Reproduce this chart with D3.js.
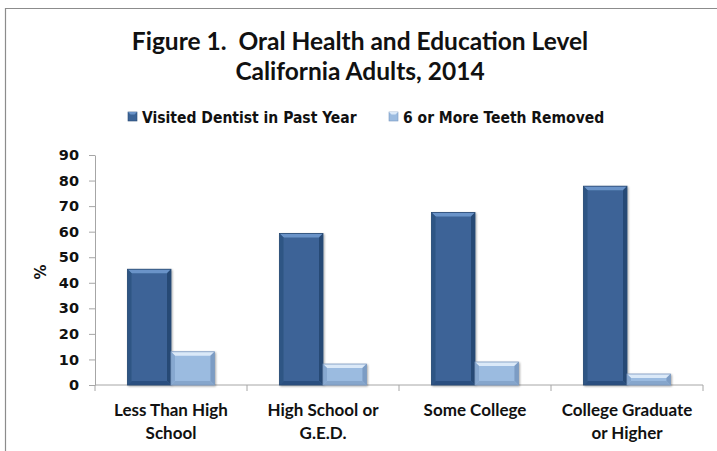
<!DOCTYPE html>
<html>
<head>
<meta charset="utf-8">
<script src="https://cdn.jsdelivr.net/npm/d3@7"></script>
<style>
  html, body { margin: 0; padding: 0; background: #fff; }
  svg { display: block; }
  text { white-space: pre; }
</style>
</head>
<body>
<svg id="chart" width="717" height="451"></svg>
<script>
// Education levels (each label split into its two display lines)
const categories = ["Less Than High School", "High School or G.E.D.", "Some College", "College Graduate or Higher"];
const categoryLines = [["Less Than High", "School"], ["High School or", "G.E.D."], ["Some College"], ["College Graduate", "or Higher"]];
const seriesNames = ["Visited Dentist in Past Year", "6 or More Teeth Removed"];
const visitedDentist = [45.3, 59.3, 67.5, 77.8];
const teethRemoved = [13.0, 8.2, 9.0, 4.3];
const yTicks = [0, 10, 20, 30, 40, 50, 60, 70, 80, 90];
const titleLines = ["Figure 1.  Oral Health and Education Level", "California Adults, 2014"];

const svg = d3.select("#chart");

// Bar colour sets: face, top bevel, side bevels, outline
const palette = [
  { face: "#3c6497", top: "#6a93c8", left: "#2f5584", right: "#284a75", bottom: "#2c5080", stroke: "#2a4a73" },
  { face: "#9bbbe0", top: "#dbe9f8", left: "#87a8d0", right: "#7c9cc4", bottom: "#86a6cc", stroke: "#7b98bf" }
];

// Frame around the chart area
svg.append("path")
  .attr("d", "M5.5,451 L5.5,8.5 L717,8.5")
  .attr("fill", "none")
  .attr("stroke", "#8c8c8c")
  .attr("stroke-width", 1.2);

// Title
const titleFont = "Lato, 'Open Sans', sans-serif";
svg.selectAll("text.title")
  .data(titleLines)
  .join("text")
  .attr("class", "title")
  .attr("xml:space", "preserve")
  .attr("x", 360)
  .attr("y", (d, i) => 50 + i * 29.5)
  .attr("text-anchor", "middle")
  .attr("font-family", titleFont)
  .attr("font-weight", "bold")
  .attr("font-size", 24.5)
  .attr("fill", "#111")
  .text(d => d);

// Scales
const plot = { left: 95, right: 703, top: 155, bottom: 385 };
const x0 = d3.scaleBand().domain(categories).range([plot.left, plot.right]).paddingInner(0).paddingOuter(0);
const x1 = d3.scaleBand().domain(seriesNames).range([0, x0.bandwidth()]).paddingInner(0).paddingOuter(0.75);
const y = d3.scaleLinear().domain([0, 90]).range([plot.bottom, plot.top]);

// Legend
const legendFont = "'DejaVu Sans Condensed', 'DejaVu Sans', sans-serif";
const axisFont = "'DejaVu Sans', Verdana, sans-serif";
const legendItems = [{ name: seriesNames[0], x: 128 }, { name: seriesNames[1], x: 389 }];
const legend = svg.selectAll("g.legend")
  .data(legendItems)
  .join("g")
  .attr("class", "legend")
  .attr("transform", d => `translate(${d.x},112)`);
legend.each(function (d, i) {
  const g = d3.select(this);
  const p = palette[i];
  g.append("rect").attr("x", 0).attr("y", 0).attr("width", 9).attr("height", 9).attr("fill", p.face).attr("stroke", p.stroke).attr("stroke-width", 0.6);
  g.append("path").attr("d", "M0,0 L9,0 L6.5,2.5 L2.5,2.5 Z").attr("fill", p.top);
});
legend.append("text")
  .attr("x", 14)
  .attr("y", 10.5)
  .attr("font-family", legendFont)
  .attr("font-weight", "bold")
  .attr("font-size", 15.5)
  .attr("fill", "#111")
  .text(d => d.name);

// Y axis
const yAxis = d3.axisLeft(y).tickValues(yTicks).tickSize(6).tickPadding(10).tickSizeOuter(0);
const gy = svg.append("g").attr("transform", `translate(${plot.left},0)`).call(yAxis);
gy.select(".domain").attr("stroke", "#a6a6a6");
gy.selectAll(".tick line").attr("stroke", "#a6a6a6");
gy.selectAll(".tick text")
  .attr("font-family", axisFont)
  .attr("font-weight", "bold")
  .attr("font-size", 14.5)
  .attr("fill", "#111");

svg.append("text")
  .attr("transform", `translate(46,${(plot.top + plot.bottom) / 2 + 2}) rotate(-90)`)
  .attr("text-anchor", "middle")
  .attr("font-family", axisFont)
  .attr("font-weight", "bold")
  .attr("font-size", 15)
  .attr("fill", "#111")
  .text("%");

// X axis: tick marks at category boundaries
const gx = svg.append("g").attr("transform", `translate(0,${plot.bottom})`);
gx.append("line").attr("x1", plot.left).attr("x2", plot.right).attr("stroke", "#a6a6a6");
const boundaries = categories.map(c => x0(c) + x0.bandwidth()).concat([plot.left]);
gx.selectAll("line.tick")
  .data(boundaries)
  .join("line")
  .attr("class", "tick")
  .attr("x1", d => d).attr("x2", d => d)
  .attr("y1", 0).attr("y2", 6)
  .attr("stroke", "#a6a6a6");

// Category labels
const catFont = "Lato, 'Open Sans', sans-serif";
const catLabels = svg.selectAll("text.cat")
  .data(categories)
  .join("text")
  .attr("class", "cat")
  .attr("text-anchor", "middle")
  .attr("font-family", catFont)
  .attr("font-weight", "bold")
  .attr("font-size", 17)
  .attr("fill", "#111");
catLabels.each(function (d, i) {
  const t = d3.select(this);
  categoryLines[i].forEach((line, j) => {
    t.append("tspan")
      .attr("x", x0(d) + x0.bandwidth() / 2)
      .attr("y", 416 + j * 22.5)
      .text(line);
  });
});

// Soft drop shadow for bars
const defs = svg.append("defs");
const shadow = defs.append("filter").attr("id", "barShadow").attr("x", "-20%").attr("y", "-20%").attr("width", "140%").attr("height", "140%");
shadow.append("feGaussianBlur").attr("in", "SourceAlpha").attr("stdDeviation", 1.2);
shadow.append("feOffset").attr("dx", 1.2).attr("dy", 0.6).attr("result", "b");
shadow.append("feComponentTransfer").append("feFuncA").attr("type", "linear").attr("slope", 0.35);
const merge = shadow.append("feMerge");
merge.append("feMergeNode");
merge.append("feMergeNode").attr("in", "SourceGraphic");

// Bars with bevelled edges
const barData = [];
categories.forEach((c, i) => {
  [visitedDentist[i], teethRemoved[i]].forEach((v, s) => {
    barData.push({ cat: c, series: seriesNames[s], s, value: v });
  });
});

const bars = svg.append("g").selectAll("g.bar")
  .data(barData)
  .join("g")
  .attr("class", "bar")
  .attr("filter", "url(#barShadow)");

bars.each(function (d) {
  const g = d3.select(this);
  const p = palette[d.s];
  const bx = x0(d.cat) + x1(d.series);
  const bw = x1.bandwidth();
  const by = y(d.value);
  const bh = y(0) - by;
  const b = Math.min(4, bh / 2);
  g.append("rect").attr("x", bx).attr("y", by).attr("width", bw).attr("height", bh).attr("fill", p.face);
  g.append("path").attr("d", `M${bx},${by} L${bx + bw},${by} L${bx + bw - b},${by + b} L${bx + b},${by + b} Z`).attr("fill", p.top);
  g.append("path").attr("d", `M${bx},${by} L${bx + b},${by + b} L${bx + b},${by + bh - b} L${bx},${by + bh} Z`).attr("fill", p.left);
  g.append("path").attr("d", `M${bx + bw},${by} L${bx + bw},${by + bh} L${bx + bw - b},${by + bh - b} L${bx + bw - b},${by + b} Z`).attr("fill", p.right);
  g.append("path").attr("d", `M${bx},${by + bh} L${bx + b},${by + bh - b} L${bx + bw - b},${by + bh - b} L${bx + bw},${by + bh} Z`).attr("fill", p.bottom);
  g.append("rect").attr("x", bx).attr("y", by).attr("width", bw).attr("height", bh).attr("fill", "none").attr("stroke", p.stroke).attr("stroke-width", 0.8);
});
</script>
</body>
</html>
